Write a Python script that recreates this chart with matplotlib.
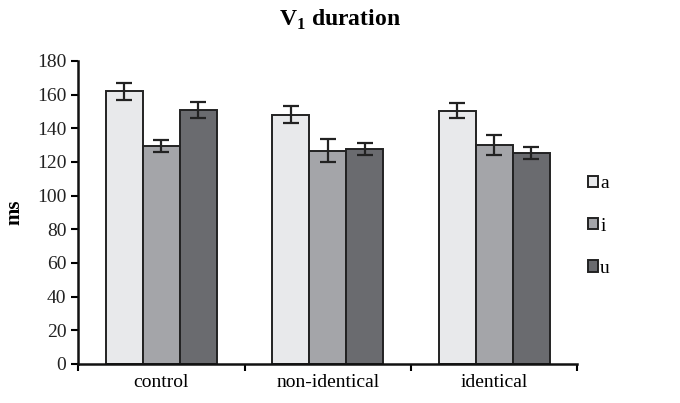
import numpy as np
import matplotlib.pyplot as plt

plt.rcParams['font.family'] = ['Liberation Serif', 'DejaVu Serif']
plt.rcParams['mathtext.fontset'] = 'custom'
plt.rcParams['mathtext.rm'] = 'Liberation Serif'
plt.rcParams['mathtext.bf'] = 'Liberation Serif:bold'

categories = ['control', 'non-identical', 'identical']
vowels = ['a', 'i', 'u']
means = {
    'a': [162, 148, 150.5],
    'i': [129.5, 126.5, 130],
    'u': [151, 127.5, 125.5],
}
errors = {
    'a': [5, 5.2, 4.3],
    'i': [3.4, 6.8, 6],
    'u': [4.8, 3.6, 3.5],
}
colors = {'a': '#e8e9eb', 'i': '#a4a5a9', 'u': '#6a6b6f'}

fig = plt.figure(figsize=(6.8, 4.03), dpi=100)
ax = fig.add_axes([0.115, 0.097, 0.734, 0.752])

x = np.arange(len(categories))
w = 0.222
for k, v in enumerate(vowels):
    pos = x + (k - 1) * w
    ax.bar(pos, means[v], w, color=colors[v], edgecolor='#222222',
           linewidth=1.4, label=v, zorder=2)
    ax.errorbar(pos, means[v], yerr=errors[v], fmt='none', ecolor='#222222',
                elinewidth=1.6, capsize=6, capthick=1.6, zorder=3)

ax.set_xlim(-0.5, 2.5)
ax.set_ylim(0, 180)
ax.set_yticks(np.arange(0, 181, 20))
ax.set_xticks([-0.5, 0.5, 1.5, 2.5])
ax.set_xticklabels([])
ax.set_xticks(x, minor=True)
ax.set_xticklabels(categories, minor=True, fontsize=14)
ax.tick_params(axis='x', which='minor', length=0, pad=7)
ax.tick_params(axis='x', which='major', length=5, width=1.5, direction='out')
ax.tick_params(axis='y', length=5, width=1.5, direction='out', labelsize=14,
               colors='black', labelcolor='#222222')
for s in ['top', 'right']:
    ax.spines[s].set_visible(False)
for s in ['left', 'bottom']:
    ax.spines[s].set_linewidth(1.8)
    ax.spines[s].set_color('#111111')

ax.set_ylabel('ms', fontsize=15, fontweight='bold', labelpad=9)
fig.suptitle('V$_\\mathbf{1}$ duration', fontsize=17, fontweight='bold', y=0.98)

leg = ax.legend(loc='center left', bbox_to_anchor=(1.005, 0.455), frameon=False,
                fontsize=14, handlelength=0.55, handleheight=0.55,
                labelspacing=1.3, handletextpad=0.1, borderaxespad=0)

fig.savefig('out.png', dpi=100)
